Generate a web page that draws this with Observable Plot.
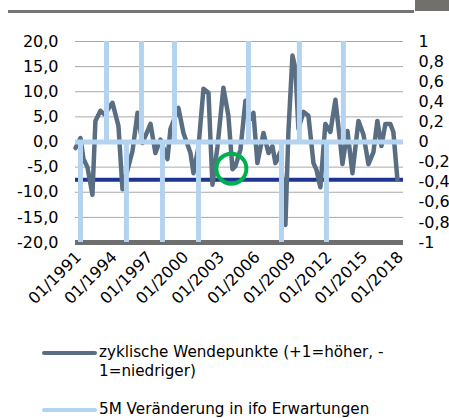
<!DOCTYPE html>
<html><head><meta charset="utf-8">
<script src="https://cdn.jsdelivr.net/npm/d3@7"></script>
<script src="https://cdn.jsdelivr.net/npm/@observablehq/plot@0.6"></script>
<style>
body{margin:0;background:#fff;font-family:"DejaVu Sans",sans-serif;}
#wrap{position:relative;width:449px;height:418px;overflow:hidden;background:#fff;}
#hdrline{position:absolute;left:8px;top:10px;width:406px;height:3px;background:#747474;}
#hdrbox{position:absolute;left:415px;top:0;width:34px;height:11px;background:#71706d;}
#chart{position:absolute;left:0;top:0;}
.sw{position:absolute;height:4px;border-radius:2px;}
.lt{position:absolute;font-size:15.2px;line-height:19px;color:#000;white-space:nowrap;}
</style></head><body>
<div id="wrap">
  <div id="hdrline"></div><div id="hdrbox"></div>
  <div id="chart"></div>
  <div class="sw" style="left:42px;top:351px;width:55px;background:#5a6e83"></div>
  <div class="lt" style="left:99px;top:343px">zyklische Wendepunkte (+1=höher, -<br>1=niedriger)</div>
  <div class="sw" style="left:42px;top:408px;width:55px;background:#b4d3f0"></div>
  <div class="lt" style="left:99px;top:400px">5M Veränderung in ifo Erwartungen</div>
</div>
<script>
// axis ticks
const leftTicks = [-20, -15, -10, -5, 0, 5, 10, 15, 20];
const rightTicks = [-1, -0.8, -0.6, -0.4, -0.2, 0, 0.2, 0.4, 0.6, 0.8, 1];
const xTickYears = [1991, 1994, 1997, 2000, 2003, 2006, 2009, 2012, 2015, 2018];

// dark series (left axis)
const cycleT = [1990.75,1991.17,1991.42,1991.75,1992.17,1992.42,1992.84,1993.18,1993.85,1994.35,1994.69,1995.53,1995.95,1996.36,1997.04,1997.45,1997.87,1998.46,1998.71,1999.38,1999.80,2000.39,2000.64,2001.06,2001.48,2001.90,2002.23,2002.65,2003.15,2003.57,2003.91,2004.16,2004.58,2005.00,2005.42,2005.67,2006.00,2006.51,2006.93,2007.26,2007.51,2007.93,2008.35,2008.60,2008.94,2009.19,2009.44,2009.86,2010.28,2010.70,2010.95,2011.28,2011.70,2012.12,2012.54,2012.96,2013.13,2013.55,2013.97,2014.47,2014.89,2015.31,2015.73,2016.06,2016.40,2016.73,2017.15,2017.40,2017.74];
const cycleV = [-1.2,0.8,-3.4,-5,-10.5,4.2,6.2,5.5,7.8,3.2,-9.4,-1.8,5.8,-0.2,3.6,-2.2,0.5,-3.4,2.6,6.8,1.8,-2.2,-6.2,-1,10.6,9.8,-8.5,-1,10.8,5.2,-5.4,-4.8,-1.5,8.2,4.6,5.8,-4.2,1.8,-2.2,-0.8,-4.2,-2,-16.5,2,17.2,14.6,2.6,6,5.2,-4.2,-5.5,-9,3.6,2,8.4,-0.5,-4.4,2.2,-6.2,4.2,1.5,-4.4,-2,4.2,-0.8,3.6,3.6,2,-7.5];

// light series (right axis, +1 / -1 turning points)
const turnT = [1991.17,1993.35,1995.02,1996.28,1998.04,1999.05,2001.06,2005.25,2008.02,2009.52,2011.79,2013.21];
const turnV = [-1,1,-1,1,-1,1,-1,1,-1,1,-1,1];

const thresholdValue = -7.5;
const markT = 2003.82, markV = -5.3;

const cycle = cycleT.map((t,i)=>({t, v: cycleV[i]}));
const turns = turnT.map((t,i)=>({t, v: turnV[i]}));
const rightScale = 20;

const dark = "#5a6e83", light = "#b4d3f0";

const chart = Plot.plot({
  width: 449, height: 330,
  marginLeft: 75, marginRight: 46, marginTop: 41, marginBottom: 88,
  style: {fontFamily: "DejaVu Sans", fontSize: "16px", color: "#000", background: "transparent"},
  x: {domain: [1990.75, 2018.25]},
  y: {domain: [-20, 20]},
  marks: [
    Plot.ruleY(leftTicks.filter(d => d > -20), {stroke: "#a9a9a9", strokeWidth: 1}),
    Plot.axisY({anchor: "left", ticks: leftTicks, tickSize: 0, tickPadding: 17, label: null,
      tickFormat: d => d.toFixed(1).replace(".", ",")}),
    Plot.axisY({anchor: "right", ticks: rightTicks.map(r => r * rightScale), tickSize: 0, tickPadding: 15, label: null,
      tickFormat: d => String(Math.round(d / rightScale * 10) / 10).replace(".", ",")}),
    Plot.axisX({ticks: xTickYears, tickSize: 0, tickPadding: 12, tickRotate: -45, label: null,
      tickFormat: d => "01/" + d}),
    Plot.ruleY([-20], {stroke: "#6e6e6e", strokeWidth: 5}),
    Plot.ruleY([thresholdValue], {stroke: "#1f3594", strokeWidth: 4}),
    Plot.line(cycle, {x: "t", y: "v", stroke: dark, strokeWidth: 4.5, strokeLinejoin: "round", strokeLinecap: "round"}),
    Plot.ruleY([0], {stroke: light, strokeWidth: 5}),
    Plot.ruleX(turns, {x: "t", y1: 0, y2: d => d.v * rightScale, stroke: light, strokeWidth: 5}),
    Plot.dot([{t: markT, v: markV}], {x: "t", y: "v", r: 15, stroke: "#00b050", strokeWidth: 4, fill: "none"})
  ]
});
document.getElementById("chart").appendChild(chart);
</script>
</body></html>
